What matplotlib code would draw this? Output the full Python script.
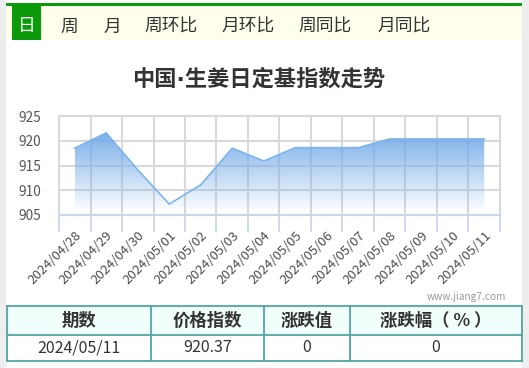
import matplotlib.pyplot as plt
import numpy as np
from matplotlib.patches import Rectangle

plt.rcParams['font.family'] = ['Noto Sans CJK SC', 'DejaVu Sans']

dates = ['2024/04/28', '2024/04/29', '2024/04/30', '2024/05/01', '2024/05/02',
         '2024/05/03', '2024/05/04', '2024/05/05', '2024/05/06', '2024/05/07',
         '2024/05/08', '2024/05/09', '2024/05/10', '2024/05/11']
values = [918.5, 921.6, 914.1, 907.2, 911.1, 918.5, 915.9, 918.6, 918.6, 918.6,
          920.37, 920.37, 920.37, 920.37]
y_ticks = [905, 910, 915, 920, 925]
tabs = ['日', '周', '月', '周环比', '月环比', '周同比', '月同比']
table_header = ['期数', '价格指数', '涨跌值', '涨跌幅（ % ）']
table_row = ['2024/05/11', '920.37', '0', '0']
title = '中国·生姜日定基指数走势'

W, H = 529, 368
fig = plt.figure(figsize=(W / 100, H / 100), dpi=100)
fig.patch.set_facecolor('white')

# background canvas in pixel coords
bg = fig.add_axes([0, 0, 1, 1])
bg.set_xlim(0, W)
bg.set_ylim(H, 0)
bg.axis('off')
bg.add_patch(Rectangle((0, 0), 6, H, color='#eeeeee', lw=0))
bg.add_patch(Rectangle((522, 0), 7, H, color='#eeeeee', lw=0))

# tab bar
bg.add_patch(Rectangle((6, 5), 516, 35, color='#ffffec', lw=0))
bg.add_patch(Rectangle((6, 3), 516, 2.5, color='#0a9a0a', lw=0))
bg.add_patch(Rectangle((12, 5), 29, 35, color='#0a9a0a', lw=0))
tab_x = [26.5, 69, 112, 171, 248, 325, 404]
for i, (lab, tx) in enumerate(zip(tabs, tab_x)):
    bg.text(tx, 31.5, lab, fontsize=12.8, ha='center', va='baseline',
            color='white' if i == 0 else '#333333')

# DejaVu first so the middle dot stays narrow
bg.text(259, 79, title, fontsize=16, fontweight='bold', ha='center',
        va='center', color='#333333', family=['DejaVu Sans', 'Noto Sans CJK SC'])
bg.text(506, 297, 'www.jiang7.com', fontsize=7.3, ha='right', va='center',
        color='#999999')

# table
cols = [7, 151, 264, 350, 522]
rows = [306, 335, 361]
teal = '#4fa8a0'
bg.add_patch(Rectangle((cols[0], rows[0]), cols[-1] - cols[0], rows[1] - rows[0],
                       color='#f0fffa', lw=0))
for yy in rows:
    bg.plot([cols[0], cols[-1]], [yy, yy], color=teal, lw=1.3)
for xx in cols:
    bg.plot([xx, xx], [rows[0], rows[-1]], color=teal, lw=1.3)
for i in range(4):
    cx = (cols[i] + cols[i + 1]) / 2
    bg.text(cx, (rows[0] + rows[1]) / 2, table_header[i], fontsize=12.5,
            fontweight='bold', ha='center', va='center', color='#333333')
    bg.text(cx, (rows[1] + rows[2]) / 2, table_row[i], fontsize=11.5,
            ha='center', va='center', color='#333333')

# chart
left, right, top, bottom = 59, 500, 116, 215
ax = fig.add_axes([left / W, 1 - bottom / H, (right - left) / W, (bottom - top) / H])
ax.set_facecolor('none')
x = np.arange(len(values))
ax.set_xlim(-0.5, len(values) - 0.5)
ax.set_ylim(905, 925)

poly = ax.fill_between(x, values, 905.6, color='none', lw=0)
rgba = np.zeros((256, 1, 4))
rgba[..., 0] = 0.45
rgba[..., 1] = 0.67
rgba[..., 2] = 0.91
rgba[..., 3] = np.linspace(0.95, 0.0, 256).reshape(-1, 1)
img = ax.imshow(rgba, extent=[x[0], x[-1], 905.6, max(values)],
                aspect='auto', origin='upper', zorder=2)
img.set_clip_path(poly.get_paths()[0], transform=ax.transData)
ax.plot(x, values, color='#7cb5ec', lw=1.2, zorder=3)

grid_c = '#d9d9d9'
ax.set_yticks(y_ticks)
ax.set_yticklabels([str(v) for v in y_ticks], fontsize=9.8, color='#555555')
ax.tick_params(axis='y', length=0, pad=13)
ax.grid(axis='y', color=grid_c, lw=1.5, zorder=1)

ax.set_xticks(x)
ax.set_xticklabels(dates, rotation=45, ha='right', rotation_mode='anchor',
                   fontsize=9.5, color='#4d4d4d')
ax.tick_params(axis='x', which='major', length=0, pad=10)
ax.set_xticks(np.arange(len(values) + 1) - 0.5, minor=True)
ax.tick_params(axis='x', which='minor', length=12, color='#ccd6eb', width=1.3)
ax.grid(axis='x', which='minor', color=grid_c, lw=1.5, zorder=1)

for s in ['top', 'right', 'left']:
    ax.spines[s].set_color(grid_c)
    ax.spines[s].set_linewidth(1.5)
ax.spines['bottom'].set_color('#ccd6eb')
ax.spines['bottom'].set_linewidth(1.5)

fig.savefig('out.png', dpi=100)
